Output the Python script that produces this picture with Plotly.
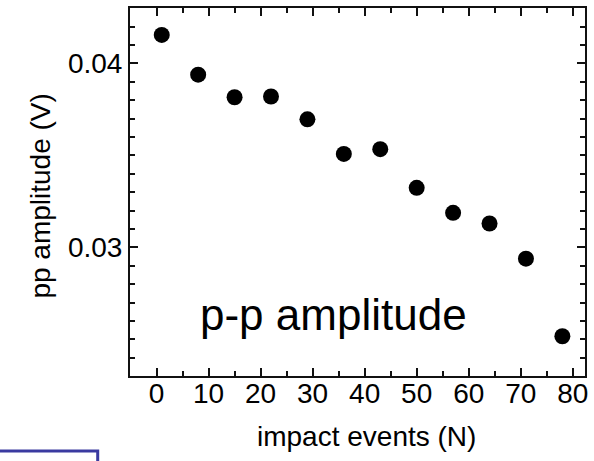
import plotly.graph_objects as go

impact_events = [1, 8, 15, 22, 29, 36, 43, 50, 57, 64, 71, 78]
pp_amplitude = [0.04155, 0.03939, 0.03816, 0.0382, 0.03696, 0.03508,
                0.03534, 0.03324, 0.03188, 0.0313, 0.02939, 0.02517]
x_ticks = [0, 10, 20, 30, 40, 50, 60, 70, 80]
y_ticks = [0.03, 0.04]
y_tick_labels = ["0.03", "0.04"]

FONT = "Liberation Sans, Arial, Helvetica, sans-serif"
W, H = 594, 461
ML, MR, MT, MB = 130, 6, 6, 85
PW, PH = W - ML - MR, H - MT - MB

def px_x(p):
    return (p - ML) / PW

def px_y(p):
    return 1 - (p - MT) / PH

fig = go.Figure()
fig.add_trace(go.Scatter(
    x=impact_events, y=pp_amplitude, mode="markers",
    marker=dict(color="black", size=16, line=dict(width=0)),
    showlegend=False, cliponaxis=False,
))

axis_common = dict(
    showline=True, linecolor="#111", linewidth=2, mirror="allticks",
    ticks="inside", tickcolor="#111", tickwidth=1.5, ticklen=8,
    showgrid=False, zeroline=False,
    tickfont=dict(family=FONT, size=28, color="black"),
)

fig.update_xaxes(
    range=[-5.1, 82.35], tickvals=x_ticks, ticklabelstandoff=-9,
    minor=dict(dtick=5, tick0=0, ticks="inside", ticklen=5, tickcolor="#111", tickwidth=1.5, showgrid=False),
    **axis_common,
)
fig.update_yaxes(
    range=[0.023011, 0.043011], tickvals=y_ticks, ticktext=y_tick_labels,
    minor=dict(dtick=0.001, tick0=0, ticks="inside", ticklen=5, tickcolor="#111", tickwidth=1.5, showgrid=False),
    **axis_common,
)

fig.add_annotation(
    text="impact events (N)", xref="paper", yref="paper",
    x=px_x(368.5), y=px_y(437), xanchor="center", yanchor="middle",
    showarrow=False, font=dict(family=FONT, size=28, color="black"),
)
fig.add_annotation(
    text="pp amplitude (V)", xref="paper", yref="paper",
    x=px_x(40), y=px_y(195), xanchor="center", yanchor="middle", textangle=-90,
    showarrow=False, font=dict(family=FONT, size=28, color="black"),
)
fig.add_annotation(
    text="p-p amplitude", xref="x", yref="y",
    x=7.9, y=0.02544, xanchor="left", yanchor="bottom", yshift=-10,
    showarrow=False, font=dict(family=FONT, size=44, color="black"),
)

fig.add_shape(
    type="rect", xref="paper", yref="paper",
    x0=px_x(-20), x1=px_x(97.5), y0=px_y(451.5), y1=px_y(480),
    line=dict(color="#3a3aa0", width=3), fillcolor="rgba(0,0,0,0)",
)

fig.update_layout(
    width=W, height=H,
    margin=dict(l=ML, r=MR, t=MT, b=MB, pad=0),
    paper_bgcolor="white", plot_bgcolor="white",
    font=dict(family=FONT, color="black"),
)

fig.write_html("out.html")
